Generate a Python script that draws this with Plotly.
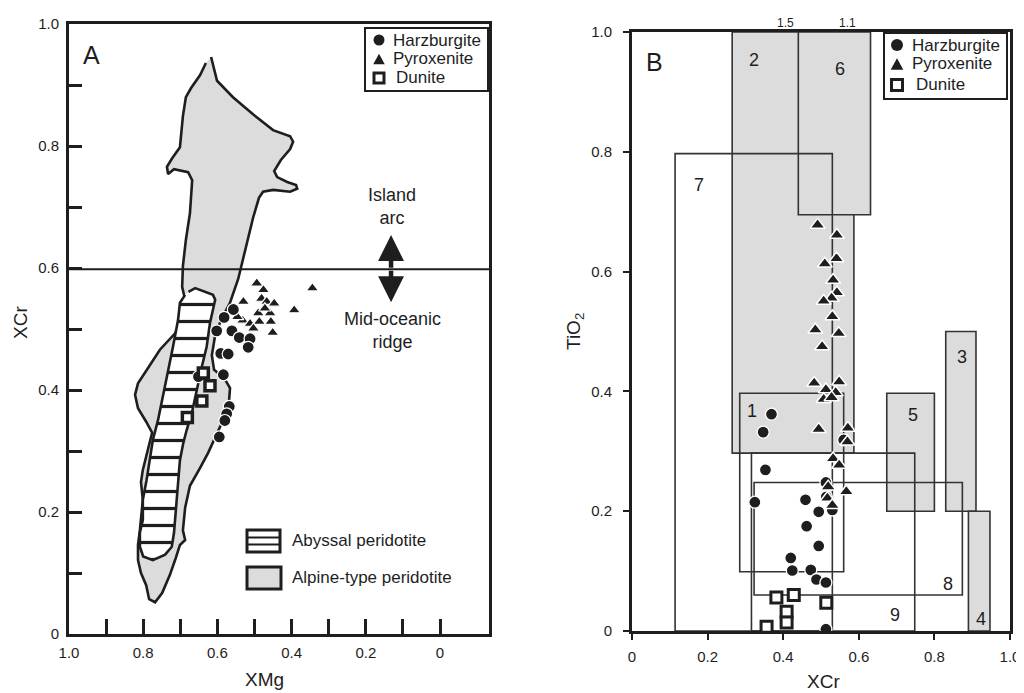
import plotly.graph_objects as go

# ---------------- Panel A data ----------------
alpine_x = [0.617,0.601,0.558,0.504,0.450,0.404,0.396,0.404,0.429,0.447,0.439,0.412,0.388,0.385,0.404,0.450,0.477,0.488,0.504,0.518,0.534,0.544,0.566,0.588,0.606,0.615,0.609,0.582,0.566,0.569,0.582,0.604,0.625,0.647,0.674,0.687,0.693,0.687,0.701,0.712,0.728,0.749,0.768,0.784,0.792,0.806,0.814,0.814,0.809,0.801,0.806,0.801,0.790,0.776,0.792,0.814,0.822,0.814,0.787,0.755,0.714,0.693,0.687,0.695,0.693,0.685,0.674,0.668,0.679,0.717,0.733,0.736,0.722,0.701,0.693,0.685,0.671,0.647,0.631]
alpine_y = [0.946,0.907,0.880,0.852,0.826,0.816,0.807,0.795,0.777,0.759,0.749,0.741,0.736,0.730,0.725,0.728,0.725,0.715,0.682,0.646,0.603,0.582,0.543,0.518,0.490,0.457,0.433,0.420,0.403,0.379,0.354,0.326,0.297,0.272,0.243,0.207,0.170,0.154,0.146,0.125,0.097,0.067,0.052,0.057,0.080,0.100,0.121,0.146,0.170,0.220,0.249,0.269,0.298,0.330,0.348,0.370,0.392,0.411,0.436,0.466,0.493,0.518,0.548,0.569,0.603,0.646,0.690,0.744,0.757,0.762,0.754,0.766,0.780,0.798,0.849,0.880,0.895,0.916,0.936]

abyssal_x = [0.678,0.660,0.612,0.606,0.620,0.629,0.642,0.656,0.669,0.683,0.692,0.701,0.705,0.710,0.714,0.717,0.723,0.741,0.774,0.800,0.809,0.809,0.801,0.801,0.791,0.782,0.774,0.760,0.747,0.733,0.720,0.706,0.701,0.687]
abyssal_y = [0.561,0.567,0.556,0.548,0.510,0.471,0.438,0.400,0.362,0.334,0.313,0.285,0.252,0.220,0.187,0.166,0.143,0.130,0.121,0.127,0.143,0.166,0.187,0.220,0.252,0.285,0.318,0.351,0.389,0.428,0.470,0.515,0.543,0.556]

harz_a_x = [0.557,0.582,0.602,0.561,0.541,0.512,0.517,0.591,0.571,0.584,0.568,0.575,0.580,0.595,0.651]
harz_a_y = [0.532,0.519,0.497,0.497,0.486,0.484,0.470,0.460,0.459,0.425,0.373,0.361,0.350,0.323,0.422]
pyx_a_x = [0.494,0.476,0.481,0.467,0.447,0.530,0.458,0.490,0.532,0.512,0.487,0.503,0.456,0.451,0.344,0.393,0.472,0.546]
pyx_a_y = [0.575,0.564,0.550,0.545,0.542,0.545,0.526,0.526,0.514,0.509,0.512,0.501,0.512,0.494,0.567,0.531,0.534,0.520]
dun_a_x = [0.638,0.620,0.642,0.681]
dun_a_y = [0.428,0.407,0.382,0.355]

a_xticks = [1.0,0.9,0.8,0.7,0.6,0.5,0.4,0.3,0.2,0.1,0.0]
a_xticktext = ["1.0","","0.8","","0.6","","0.4","","0.2","","0"]
a_yticks = [0.0,0.1,0.2,0.3,0.4,0.5,0.6,0.7,0.8,0.9,1.0]
a_yticktext = ["0","","0.2","","0.4","","0.6","","0.8","","1.0"]
boundary_xcr = 0.598

# ---------------- Panel B data ----------------
harz_b_x = [0.369,0.347,0.560,0.353,0.513,0.325,0.459,0.494,0.462,0.494,0.420,0.424,0.473,0.488,0.513,0.513,0.530,0.514]
harz_b_y = [0.362,0.332,0.319,0.269,0.248,0.215,0.219,0.199,0.175,0.142,0.122,0.101,0.102,0.086,0.081,0.003,0.202,0.224]
pyx_b_x = [0.491,0.542,0.510,0.541,0.532,0.542,0.528,0.507,0.530,0.485,0.547,0.503,0.482,0.548,0.513,0.539,0.507,0.528,0.494,0.571,0.570,0.532,0.548,0.519,0.567,0.517,0.530]
pyx_b_y = [0.678,0.661,0.613,0.622,0.586,0.565,0.556,0.551,0.525,0.503,0.497,0.475,0.414,0.416,0.403,0.398,0.387,0.390,0.337,0.339,0.316,0.288,0.277,0.241,0.233,0.222,0.210]
dun_b_x = [0.382,0.428,0.514,0.409,0.409,0.356]
dun_b_y = [0.056,0.060,0.047,0.032,0.014,0.007]

box_ids    = ["2", "6", "5", "3", "4", "7", "1", "9", "8"]
box_x0     = [0.265, 0.440, 0.674, 0.830, 0.890, 0.114, 0.285, 0.316, 0.323]
box_x1     = [0.587, 0.631, 0.800, 0.910, 0.947, 0.530, 0.560, 0.748, 0.874]
box_y0     = [0.297, 0.695, 0.200, 0.200, 0.000, 0.000, 0.099, 0.000, 0.060]
box_y1     = [1.000, 1.000, 0.397, 0.500, 0.200, 0.797, 0.397, 0.297, 0.248]
box_filled = [True, True, True, True, True, False, False, False, False]
label_ids = ["1", "2", "6", "7", "3", "5", "8", "9", "4"]
label_x   = [0.318, 0.324, 0.549, 0.178, 0.872, 0.744, 0.837, 0.695, 0.923]
label_y   = [0.367, 0.954, 0.939, 0.744, 0.457, 0.360, 0.078, 0.027, 0.020]
top_labels   = ["1.5", "1.1"]
top_labels_x = [0.407, 0.570]
b_ticks = [0.0, 0.2, 0.4, 0.6, 0.8, 1.0]
b_ticktext = ["0", "0.2", "0.4", "0.6", "0.8", "1.0"]

legend_names = ["Harzburgite", "Pyroxenite", "Dunite"]

# ---------------- styling ----------------
# The page body keeps the browser's default 8px margin, so the figure is sized
# to fill the remaining window and positions are given in window pixels.
OFF = 8
W, H = 1024 - OFF, 693 - OFF
FONT = "Liberation Sans, Arial, Helvetica, sans-serif"
INK = "#1e1e1e"
GRAY = "#dcdcdc"

def fx(px):
    return (px - OFF) / W

def fy(py):
    return 1 - (py - OFF) / H

fig = go.Figure()

# Panel A polygons
fig.add_trace(go.Scatter(x=alpine_x, y=alpine_y, fill="toself", fillcolor=GRAY,
                         mode="lines", line=dict(color=INK, width=2.6),
                         name="Alpine-type peridotite", showlegend=False,
                         hoverinfo="skip", xaxis="x", yaxis="y"))
fig.add_trace(go.Scatter(x=abyssal_x, y=abyssal_y, fill="toself", fillcolor="white",
                         fillpattern=dict(shape="-", fgcolor=INK, bgcolor="white",
                                          size=17, solidity=0.19, fillmode="replace"),
                         mode="lines", line=dict(color=INK, width=2.6),
                         name="Abyssal peridotite", showlegend=False,
                         hoverinfo="skip", xaxis="x", yaxis="y"))

# Panel A points
fig.add_trace(go.Scatter(x=pyx_a_x, y=pyx_a_y, mode="markers", name="Pyroxenite",
                         marker=dict(symbol="triangle-up", size=11, color=INK,
                                     line=dict(color="white", width=1.2)),
                         showlegend=False, xaxis="x", yaxis="y"))
fig.add_trace(go.Scatter(x=harz_a_x, y=harz_a_y, mode="markers", name="Harzburgite",
                         marker=dict(symbol="circle", size=12, color=INK,
                                     line=dict(color="white", width=1.2)),
                         showlegend=False, xaxis="x", yaxis="y"))
fig.add_trace(go.Scatter(x=dun_a_x, y=dun_a_y, mode="markers", name="Dunite",
                         marker=dict(symbol="square", size=10, color="white",
                                     line=dict(color=INK, width=3.5)),
                         showlegend=False, xaxis="x", yaxis="y"))

# Panel B points
fig.add_trace(go.Scatter(x=harz_b_x, y=harz_b_y, mode="markers", name="Harzburgite",
                         marker=dict(symbol="circle", size=12, color=INK,
                                     line=dict(color="white", width=1.3)),
                         showlegend=False, xaxis="x2", yaxis="y2"))
fig.add_trace(go.Scatter(x=pyx_b_x, y=pyx_b_y, mode="markers", name="Pyroxenite",
                         marker=dict(symbol="triangle-up", size=13, color=INK,
                                     line=dict(color="white", width=1.5)),
                         showlegend=False, xaxis="x2", yaxis="y2"))
fig.add_trace(go.Scatter(x=dun_b_x, y=dun_b_y, mode="markers", name="Dunite",
                         marker=dict(symbol="square", size=11, color="white",
                                     line=dict(color=INK, width=3)),
                         showlegend=False, xaxis="x2", yaxis="y2"))

shapes = []
# Panel B boxes (filled first, outlines after)
for i in range(len(box_ids)):
    if box_filled[i]:
        shapes.append(dict(type="rect", xref="x2", yref="y2",
                           x0=box_x0[i], x1=box_x1[i], y0=box_y0[i], y1=box_y1[i],
                           fillcolor=GRAY, line=dict(color="#333", width=1.6), layer="below"))
for i in range(len(box_ids)):
    if not box_filled[i]:
        shapes.append(dict(type="rect", xref="x2", yref="y2",
                           x0=box_x0[i], x1=box_x1[i], y0=box_y0[i], y1=box_y1[i],
                           fillcolor="rgba(0,0,0,0)", line=dict(color="#333", width=1.6),
                           layer="below"))

# Island arc / MOR boundary line in panel A
shapes.append(dict(type="line", xref="x domain", yref="y", x0=0, x1=1,
                   y0=boundary_xcr, y1=boundary_xcr, line=dict(color=INK, width=2)))

# Polygon legend icons (panel A, lower right)
shapes.append(dict(type="rect", xref="paper", yref="paper",
                   x0=fx(247), x1=fx(280), y0=fy(552), y1=fy(530),
                   fillcolor="white", line=dict(color=INK, width=3)))
for py in (537.5, 544.5):
    shapes.append(dict(type="line", xref="paper", yref="paper",
                       x0=fx(247), x1=fx(280), y0=fy(py), y1=fy(py),
                       line=dict(color=INK, width=2.2)))
shapes.append(dict(type="rect", xref="paper", yref="paper",
                   x0=fx(247), x1=fx(281), y0=fy(589), y1=fy(567),
                   fillcolor=GRAY, line=dict(color=INK, width=3)))

ann = []
txt = dict(family=FONT, color=INK)


def label(xp, yp, text, size, **kw):
    """Text placed by its centre (or given anchor) in window pixels."""
    d = dict(x=fx(xp), y=fy(yp), xref="paper", yref="paper", text=text,
             showarrow=False, xanchor="center", yanchor="middle",
             font=dict(size=size, **txt))
    d.update(kw)
    ann.append(d)


def symbol_legend(box, gx, rows, tx, glyph, fsize):
    """Legend frame + glyphs + labels, positioned in window pixels."""
    x0, y0, x1, y1 = box
    shapes.append(dict(type="rect", xref="paper", yref="paper",
                       x0=fx(x0), x1=fx(x1), y0=fy(y1), y1=fy(y0),
                       fillcolor="white", line=dict(color=INK, width=2)))
    r = glyph / 2
    cy = rows[0]
    shapes.append(dict(type="circle", xref="paper", yref="paper",
                       x0=fx(gx - r), x1=fx(gx + r), y0=fy(cy + r), y1=fy(cy - r),
                       fillcolor=INK, line=dict(color=INK, width=0)))
    cy = rows[1]
    w, h = glyph * 1.05, glyph * 0.95
    path = "M{},{} L{},{} L{},{} Z".format(fx(gx - w / 2), fy(cy + h / 2),
                                          fx(gx + w / 2), fy(cy + h / 2),
                                          fx(gx), fy(cy - h / 2))
    shapes.append(dict(type="path", xref="paper", yref="paper", path=path,
                       fillcolor=INK, line=dict(color=INK, width=0)))
    cy = rows[2]
    s = glyph / 2 - 0.5
    shapes.append(dict(type="rect", xref="paper", yref="paper",
                       x0=fx(gx - s), x1=fx(gx + s), y0=fy(cy + s), y1=fy(cy - s),
                       fillcolor="white", line=dict(color=INK, width=3)))
    for name, cy, t in zip(legend_names, rows, tx):
        label(t, cy, name, fsize, xanchor="left")


symbol_legend((365, 28, 488, 91), 379, (40, 59, 78), (391, 391, 394), 11, 17)
symbol_legend((884, 33, 1007, 99), 897, (45, 64, 85), (910, 910, 914), 12, 17)

# Panel letters
ann.append(dict(x=0.939, y=0.950, xref="x", yref="y", text="A", showarrow=False,
                xanchor="center", yanchor="middle", font=dict(size=25, **txt)))
ann.append(dict(x=0.059, y=0.950, xref="x2", yref="y2", text="B", showarrow=False,
                xanchor="center", yanchor="middle", font=dict(size=25, **txt)))
# Island arc / MOR labels
ann.append(dict(x=0.129, y=0.701, xref="x", yref="y", text="Island<br>arc", showarrow=False,
                xanchor="center", yanchor="middle", font=dict(size=18, **txt)))
ann.append(dict(x=0.129, y=0.497, xref="x", yref="y", text="Mid-oceanic<br>ridge",
                showarrow=False, xanchor="center", yanchor="middle", font=dict(size=18, **txt)))
# double arrow
for tip in (0.654, 0.544):
    ann.append(dict(x=0.132, y=tip, ax=0.132, ay=boundary_xcr, xref="x", yref="y",
                    axref="x", ayref="y", text="", showarrow=True, arrowhead=2,
                    arrowwidth=4.5, arrowsize=1.15, arrowcolor=INK))
# Polygon legend text
label(290, 540, "Abyssal peridotite", 17, xanchor="left")
label(290, 577, "Alpine-type peridotite", 17, xanchor="left")
# Box labels in panel B
for t, x, y in zip(label_ids, label_x, label_y):
    ann.append(dict(x=x, y=y, xref="x2", yref="y2", text=t, showarrow=False,
                    xanchor="center", yanchor="middle", font=dict(size=18, **txt)))
for t, x in zip(top_labels, top_labels_x):
    ann.append(dict(x=x, y=fy(31), xref="x2", yref="paper", text=t, showarrow=False,
                    xanchor="center", yanchor="bottom", borderpad=0,
                    font=dict(size=12, **txt)))
# Axis titles
label(264, 679, "XMg", 19)
label(20, 323, "XCr", 19, textangle=-90)
label(823, 681, "XCr", 19)
label(575, 332, "TiO<sub>2</sub>", 19, textangle=-90)

axis_common = dict(showgrid=False, zeroline=False, showline=True, mirror=True,
                   linecolor=INK, linewidth=3, tickcolor=INK,
                   tickfont=dict(family=FONT, size=15, color=INK))

fig.update_layout(
    width=W, height=H, margin=dict(l=0, r=0, t=0, b=0, autoexpand=False),
    paper_bgcolor="white", plot_bgcolor="white", showlegend=False,
    xaxis=dict(domain=[fx(69), fx(489)], range=[1.0, -0.132], anchor="y",
               tickmode="array", tickvals=a_xticks, ticktext=a_xticktext,
               ticks="inside", ticklen=15, tickwidth=2.5, ticklabelstandoff=3, **axis_common),
    yaxis=dict(domain=[fy(634), fy(24)], range=[0, 1], anchor="x",
               tickmode="array", tickvals=a_yticks, ticktext=a_yticktext,
               ticks="inside", ticklen=13, tickwidth=2.5, ticklabelstandoff=4, **axis_common),
    xaxis2=dict(domain=[fx(632), fx(1010)], range=[0, 1], anchor="y2",
                tickmode="array", tickvals=b_ticks, ticktext=b_ticktext,
                ticks="outside", ticklen=6, tickwidth=2, ticklabelstandoff=4, **axis_common),
    yaxis2=dict(domain=[fy(631), fy(32)], range=[0, 1], anchor="x2",
                tickmode="array", tickvals=b_ticks, ticktext=b_ticktext,
                ticks="outside", ticklen=6, tickwidth=2, ticklabelstandoff=8, **axis_common),
    shapes=shapes, annotations=ann,
)

fig.write_html("out.html")
